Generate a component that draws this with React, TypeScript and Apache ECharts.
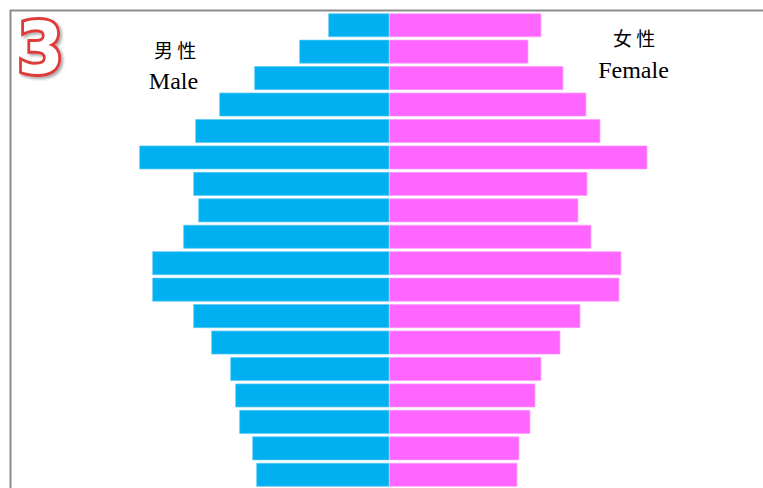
import React, { useEffect, useRef } from "react";
import * as echarts from "echarts";

// Age groups, bottom (youngest) to top (oldest)
const ageGroups = [
  "0-4", "5-9", "10-14", "15-19", "20-24", "25-29", "30-34", "35-39", "40-44",
  "45-49", "50-54", "55-59", "60-64", "65-69", "70-74", "75-79", "80-84", "85+",
];
const maleValues = [133, 137, 150, 154, 159, 178, 196, 237, 237, 206, 191, 196, 250, 194, 170, 135, 90, 61];
const femaleValues = [128, 130, 141, 146, 152, 171, 191, 230, 232, 202, 189, 198, 258, 211, 197, 174, 139, 152];

const maleLabelCn = "男 性";
const maleLabelEn = "Male";
const femaleLabelCn = "女 性";
const femaleLabelEn = "Female";
const badgeText = "3";

export default function App() {
  const ref = useRef<HTMLDivElement>(null);

  useEffect(() => {
    if (!ref.current) return;
    const chart = echarts.init(ref.current, undefined, { renderer: "svg" });
    const R = 300;
    const center = 389.3;
    chart.setOption({
      animation: false,
      backgroundColor: "#ffffff",
      grid: {
        left: center - R,
        right: 763 - center - R,
        top: 12,
        height: 478,
        containLabel: false,
      },
      xAxis: {
        type: "value",
        min: -R,
        max: R,
        show: false,
      },
      yAxis: {
        type: "category",
        data: ageGroups,
        show: false,
      },
      series: [
        {
          name: "Male",
          type: "bar",
          stack: "pop",
          barCategoryGap: "10%",
          data: maleValues.map((v) => -v),
          itemStyle: { color: "#00B0F0", borderColor: "#5cccf5", borderWidth: 0.7 },
        },
        {
          name: "Female",
          type: "bar",
          stack: "pop",
          barCategoryGap: "10%",
          data: femaleValues,
          itemStyle: { color: "#FF66FF", borderColor: "#ff9cff", borderWidth: 0.7 },
        },
      ],
      graphic: [
        {
          type: "rect",
          silent: true,
          shape: { x: 10.5, y: 10.5, width: 900, height: 900 },
          style: { fill: "none", stroke: "#8c8c8c", lineWidth: 2 },
          z: 0,
        },
        {
          type: "text",
          x: 40.5,
          y: 48,
          scaleX: 0.92,
          style: {
            text: badgeText,
            font: "bold 72px 'DejaVu Sans'",
            fill: "#ffffff",
            stroke: "#e03a3a",
            lineWidth: 6,
            align: "center",
            verticalAlign: "middle",
            textShadowColor: "rgba(0,0,0,0.35)",
            textShadowBlur: 3,
            textShadowOffsetX: 2,
            textShadowOffsetY: 2,
          },
        },
        {
          type: "text",
          x: 175,
          y: 49,
          style: {
            text: maleLabelCn,
            font: "19px 'Noto Sans CJK SC'",
            fill: "#000",
            align: "center",
            verticalAlign: "middle",
          },
        },
        {
          type: "text",
          x: 173.5,
          y: 81,
          style: {
            text: maleLabelEn,
            font: "24px 'Liberation Serif'",
            fill: "#000",
            align: "center",
            verticalAlign: "middle",
          },
        },
        {
          type: "text",
          x: 634,
          y: 37,
          style: {
            text: femaleLabelCn,
            font: "19px 'Noto Sans CJK SC'",
            fill: "#000",
            align: "center",
            verticalAlign: "middle",
          },
        },
        {
          type: "text",
          x: 633.5,
          y: 70,
          style: {
            text: femaleLabelEn,
            font: "24px 'Liberation Serif'",
            fill: "#000",
            align: "center",
            verticalAlign: "middle",
          },
        },
      ],
    });
    return () => chart.dispose();
  }, []);

  return (
    <div
      ref={ref}
      style={{ position: "fixed", left: 0, top: 0, width: 763, height: 488 }}
    />
  );
}
